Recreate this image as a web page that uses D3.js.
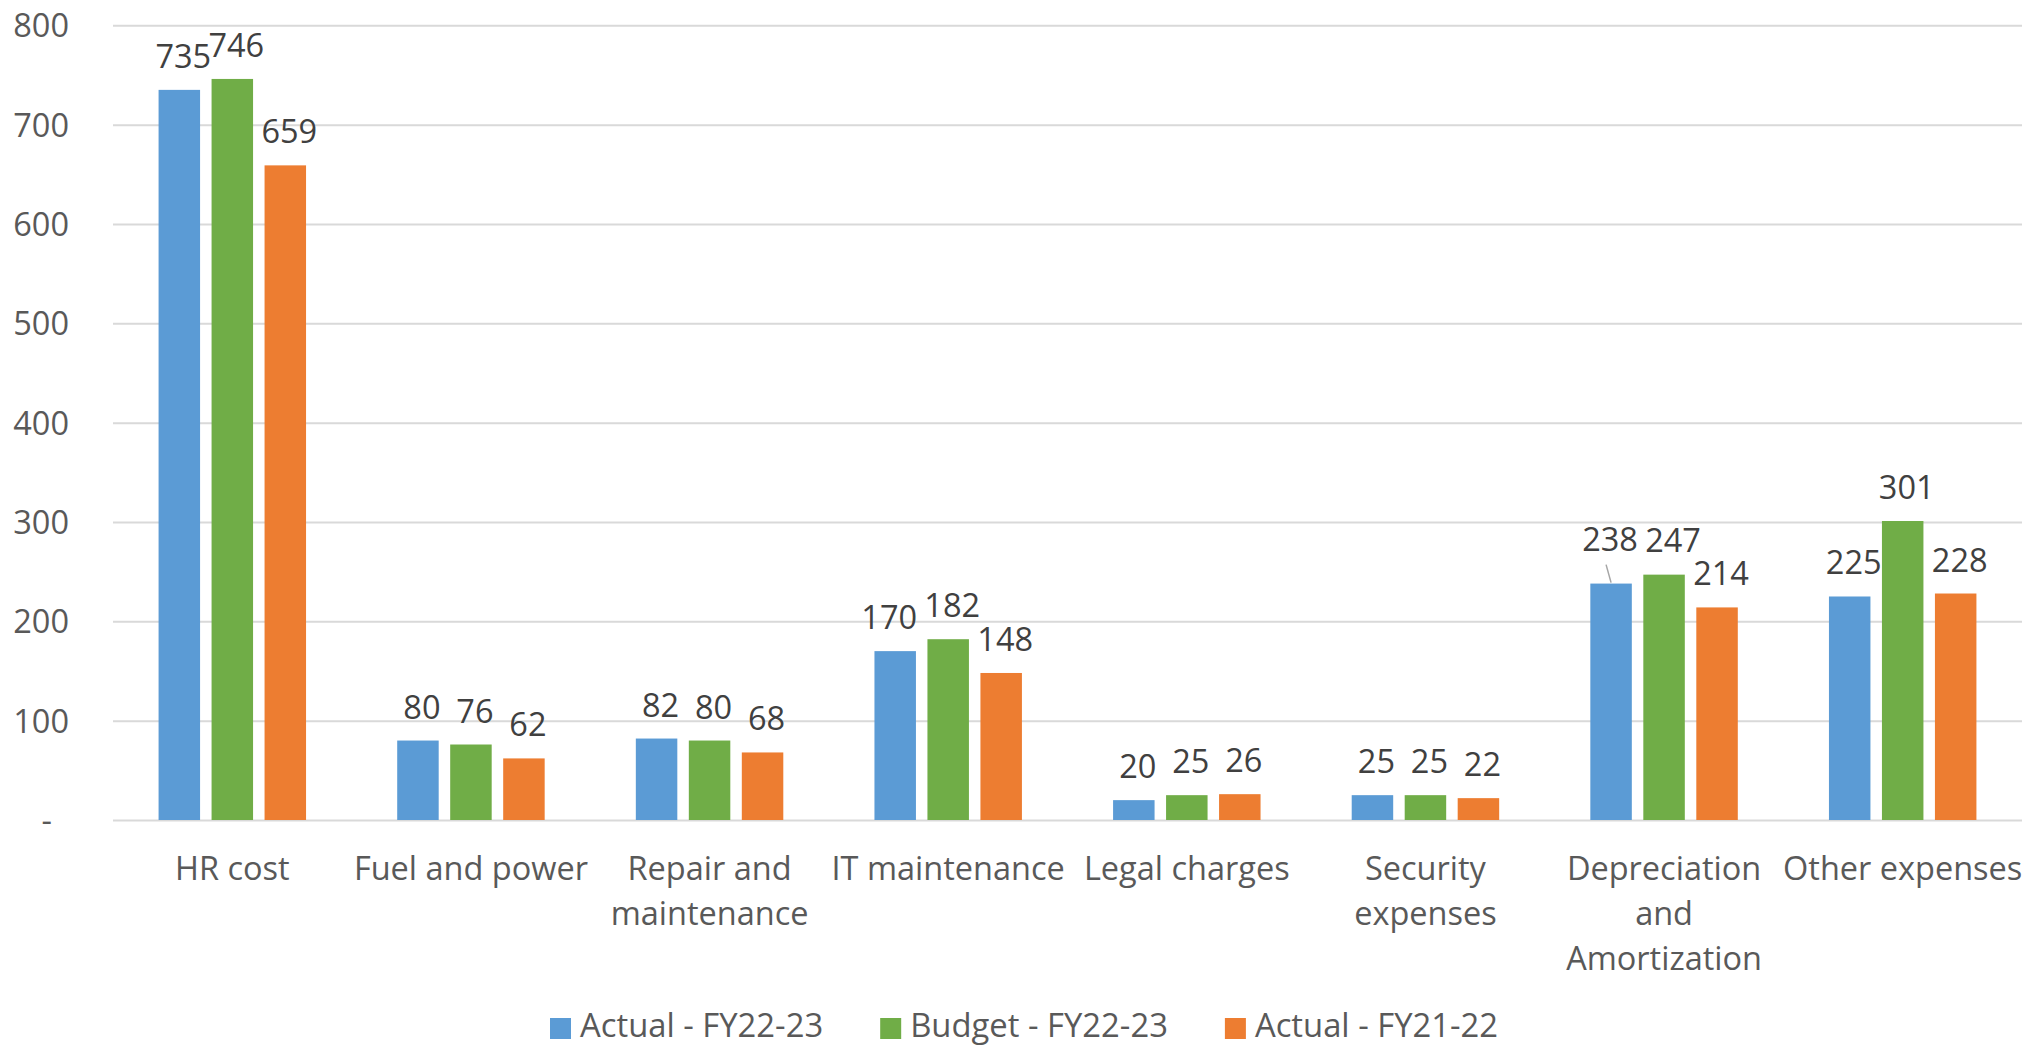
<!DOCTYPE html>
<html>
<head>
<meta charset="utf-8">
<script src="https://cdn.jsdelivr.net/npm/d3@7"></script>
<style>
  html, body { margin: 0; padding: 0; background: #fff; }
  svg { display: block; }
  text { font-family: "Open Sans", "Noto Sans", sans-serif; }
</style>
</head>
<body>
<svg id="chart" width="2028" height="1046"></svg>
<script>
// ---- data ----
const categories = ["HR cost", "Fuel and power", "Repair and maintenance", "IT maintenance",
                    "Legal charges", "Security expenses", "Depreciation and Amortization", "Other expenses"];
const categoryLines = [["HR cost"], ["Fuel and power"], ["Repair and", "maintenance"], ["IT maintenance"],
                       ["Legal charges"], ["Security", "expenses"], ["Depreciation", "and", "Amortization"], ["Other expenses"]];
const seriesNames = ["Actual - FY22-23", "Budget - FY22-23", "Actual - FY21-22"];
const actual2223 = [735, 80, 82, 170, 20, 25, 238, 225];
const budget2223 = [746, 76, 80, 182, 25, 25, 247, 301];
const actual2122 = [659, 62, 68, 148, 26, 22, 214, 228];
const yTicks = [0, 100, 200, 300, 400, 500, 600, 700, 800];
const colors = ["#5b9bd5", "#70ad47", "#ed7d31"];

const seriesValues = [actual2223, budget2223, actual2122];

// ---- layout ----
const svg = d3.select("#chart");
const plot = { left: 113, right: 2022, top: 25.3, bottom: 820 };
const FS = 32.5;
const LFS = 32.8;

const y = d3.scaleLinear().domain([0, 800]).range([plot.bottom, plot.top]);
const x0 = d3.scaleBand().domain(categories).range([plot.left, plot.right]).paddingInner(0).paddingOuter(0);
const bw = x0.bandwidth();
const x1 = d3.scaleBand().domain(seriesNames).range([0.191 * bw, 0.809 * bw]).paddingInner(0.217).paddingOuter(0);

// gridlines + y tick labels
const yAxis = d3.axisLeft(y).tickValues(yTicks).tickSize(-(plot.right - plot.left)).tickFormat(d => d === 0 ? "-" : d3.format(",")(d));
const ga = svg.append("g").attr("transform", `translate(${plot.left},0)`).call(yAxis);
ga.select(".domain").remove();
ga.selectAll(".tick line").attr("stroke", "#d9d9d9").attr("stroke-width", 2);
ga.selectAll(".tick text")
  .attr("x", d => d === 0 ? -61 : -44)
  .attr("dy", "0.35em")
  .attr("fill", "#595959")
  .style("font-size", FS + "px")
  .style("font-family", '"Open Sans", sans-serif');

// bars
const groups = svg.append("g").selectAll("g.cat")
  .data(categories)
  .join("g")
  .attr("class", "cat")
  .attr("transform", d => `translate(${x0(d)},0)`);

groups.selectAll("rect")
  .data((c, i) => seriesNames.map((s, k) => ({ s, k, v: seriesValues[k][i], ci: i })))
  .join("rect")
  .attr("x", d => x1(d.s))
  .attr("width", x1.bandwidth())
  .attr("y", d => y(d.v))
  .attr("height", d => y(0) - y(d.v))
  .attr("fill", d => colors[d.k]);

// data labels (with Excel-style nudges to avoid overlap)
const nudges = { "3-0": { dx: -10 }, "6-0": { dx: -5, dy: -11, leader: true }, "6-1": { dx: 5, dy: -1 } };
groups.selectAll("text.lbl")
  .data((c, i) => seriesNames.map((s, k) => ({ s, k, v: seriesValues[k][i], ci: i })))
  .join("text")
  .attr("class", "lbl")
  .attr("text-anchor", "middle")
  .attr("x", d => x1(d.s) + x1.bandwidth() / 2 + 4 + ((nudges[d.ci + "-" + d.k] || {}).dx || 0))
  .attr("y", d => y(d.v) - 22 + ((nudges[d.ci + "-" + d.k] || {}).dy || 0))
  .attr("fill", "#404040")
  .style("font-size", FS + "px")
  .text(d => d.v);

// leader line
groups.each(function (c, i) {
  seriesNames.forEach((s, k) => {
    const n = nudges[i + "-" + k];
    if (n && n.leader) {
      const cx = x1(s) + x1.bandwidth() / 2;
      d3.select(this).append("line")
        .attr("x1", cx - 5).attr("y1", y(seriesValues[k][i]) - 19)
        .attr("x2", cx).attr("y2", y(seriesValues[k][i]) - 1)
        .attr("stroke", "#a6a6a6").attr("stroke-width", 1.5);
    }
  });
});

// category labels
const cat = svg.append("g").selectAll("text.cat")
  .data(categories)
  .join("text")
  .attr("class", "cat")
  .attr("text-anchor", "middle")
  .attr("x", d => x0(d) + bw / 2)
  .attr("y", 880)
  .attr("fill", "#595959")
  .style("font-size", FS + "px");
cat.selectAll("tspan")
  .data((d, i) => categoryLines[i])
  .join("tspan")
  .attr("x", function () { return this.parentNode.getAttribute("x"); })
  .attr("dy", (d, j) => j === 0 ? 0 : 45)
  .text(d => d);

// legend
const leg = svg.append("g");
const items = leg.selectAll("g").data(seriesNames).join("g");
items.append("rect").attr("width", 21).attr("height", 21).attr("y", -10.5).attr("fill", (d, k) => colors[k]);
items.append("text").attr("x", 30).attr("y", 8.5).attr("fill", "#595959")
  .style("font-size", LFS + "px").text(d => d);
const widths = [];
items.each(function () { widths.push(this.getBBox().width); });
const gap = 57;
items.attr("transform", (d, k) => {
  const tx = 550 + d3.sum(widths.slice(0, k)) + gap * k;
  return `translate(${tx},1028.5)`;
});
</script>
</body>
</html>
